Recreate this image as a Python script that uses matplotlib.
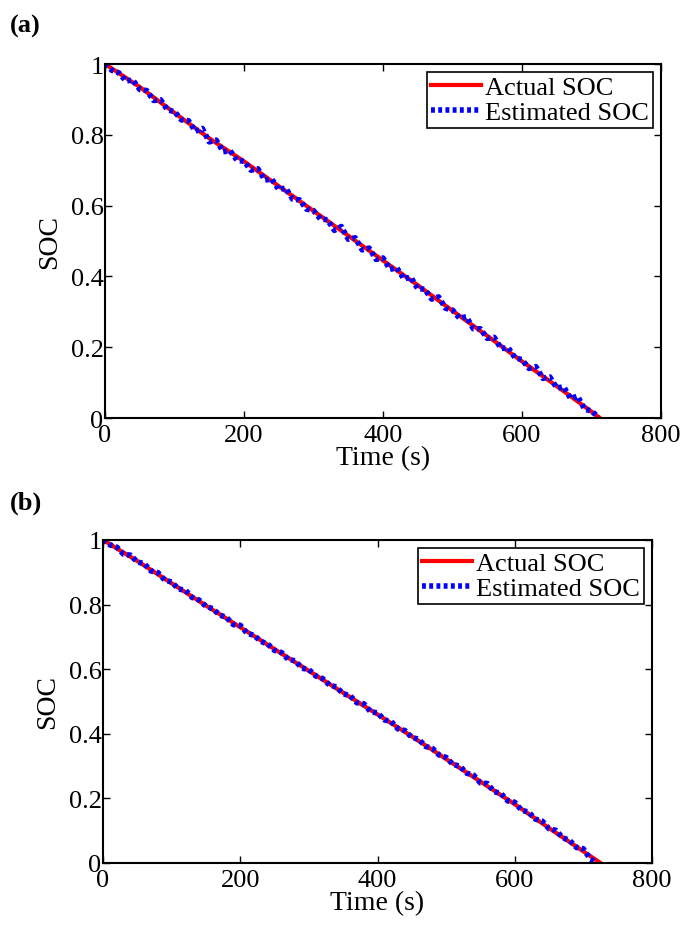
import matplotlib.pyplot as plt
import numpy as np

plt.rcParams['font.family'] = ['Liberation Serif', 'DejaVu Serif']

# panel (a)
t_act_a = [0, 50, 100, 150, 200, 250, 300, 350, 400, 450, 500, 550, 600, 650, 700, 712]
soc_act_a = [1.0, 0.935, 0.862, 0.790, 0.725, 0.655, 0.585, 0.515, 0.445, 0.375,
             0.303, 0.232, 0.160, 0.090, 0.018, 0.0]
t_est_a = list(range(0, 720, 10))
soc_est_a = [1.000, 0.982, 0.975, 0.952, 0.955, 0.928, 0.925, 0.897, 0.899, 0.870,
             0.866, 0.842, 0.840, 0.810, 0.818, 0.780, 0.785, 0.752, 0.755, 0.728,
             0.725, 0.700, 0.704, 0.672, 0.675, 0.645, 0.650, 0.618, 0.616, 0.590,
             0.586, 0.562, 0.560, 0.530, 0.541, 0.505, 0.509, 0.475, 0.480, 0.448,
             0.452, 0.420, 0.424, 0.393, 0.398, 0.365, 0.364, 0.336, 0.342, 0.310,
             0.305, 0.282, 0.286, 0.252, 0.252, 0.225, 0.228, 0.196, 0.199, 0.170,
             0.165, 0.140, 0.145, 0.112, 0.116, 0.085, 0.088, 0.055, 0.062, 0.025,
             0.020, 0.002]

# panel (b)
t_act_b = [0, 50, 100, 150, 200, 250, 300, 350, 400, 450, 500, 550, 600, 650, 700, 725]
soc_act_b = [1.0, 0.935, 0.866, 0.797, 0.730, 0.662, 0.595, 0.527, 0.460, 0.392,
             0.322, 0.252, 0.182, 0.108, 0.036, 0.0]
t_est_b = list(range(0, 730, 10))
soc_est_b = [1.000, 0.985, 0.978, 0.956, 0.953, 0.932, 0.927, 0.904, 0.899, 0.876,
             0.870, 0.848, 0.845, 0.822, 0.814, 0.795, 0.787, 0.768, 0.760, 0.738,
             0.736, 0.711, 0.705, 0.686, 0.678, 0.658, 0.652, 0.630, 0.626, 0.603,
             0.599, 0.579, 0.571, 0.551, 0.545, 0.524, 0.518, 0.496, 0.493, 0.468,
             0.465, 0.443, 0.438, 0.415, 0.410, 0.389, 0.383, 0.361, 0.355, 0.334,
             0.327, 0.305, 0.300, 0.278, 0.272, 0.248, 0.246, 0.221, 0.215, 0.192,
             0.188, 0.163, 0.158, 0.136, 0.130, 0.106, 0.101, 0.078, 0.070, 0.048,
             0.044, 0.012, 0.002]

xticks = [0, 200, 400, 600, 800]
yticks = [0, 0.2, 0.4, 0.6, 0.8, 1]
ytick_labels = ['0', '0.2', '0.4', '0.6', '0.8', '1']

fs = 19
fig = plt.figure(figsize=(6.99, 9.29), dpi=100)


def draw_panel(ax, t_act, soc_act, t_est, soc_est):
    ax.plot(t_act, soc_act, color='red', lw=3, label='Actual SOC')
    ax.plot(t_est, soc_est, color='blue', lw=4, ls=(0, (0.7, 0.6)), label='Estimated SOC')
    ax.set_xlim(0, 800)
    ax.set_ylim(0, 1)
    ax.set_xticks(xticks)
    ax.set_yticks(yticks)
    ax.set_yticklabels(ytick_labels)
    ax.tick_params(direction='in', top=True, right=True, labelsize=fs, length=5, width=1)
    ax.tick_params(axis='y', pad=1)
    ax.tick_params(axis='x', pad=4)
    for sp in ax.spines.values():
        sp.set_linewidth(1.5)
    ax.set_xlabel('Time (s)', fontsize=fs + 1, labelpad=0)
    ax.set_ylabel('SOC', fontsize=fs + 1, labelpad=6)
    leg = ax.legend(loc='upper right', fontsize=fs, fancybox=False, framealpha=1,
                    edgecolor='black', borderaxespad=0.3, handlelength=1.9,
                    handletextpad=0.15, borderpad=0.15, labelspacing=0.05)
    leg.get_frame().set_linewidth(1.2)


ax1 = fig.add_axes([105 / 699, 1 - 419 / 929, 556 / 699, 354 / 929])
draw_panel(ax1, t_act_a, soc_act_a, t_est_a, soc_est_a)

ax2 = fig.add_axes([103 / 699, 1 - 864 / 929, 549 / 699, 323 / 929])
draw_panel(ax2, t_act_b, soc_act_b, t_est_b, soc_est_b)

fig.text(10 / 699, 1 - 26 / 929, '(a)', fontsize=fs, fontweight='bold', va='center')
fig.text(10 / 699, 1 - 503 / 929, '(b)', fontsize=fs, fontweight='bold', va='center')

plt.savefig('out.png', dpi=100)
